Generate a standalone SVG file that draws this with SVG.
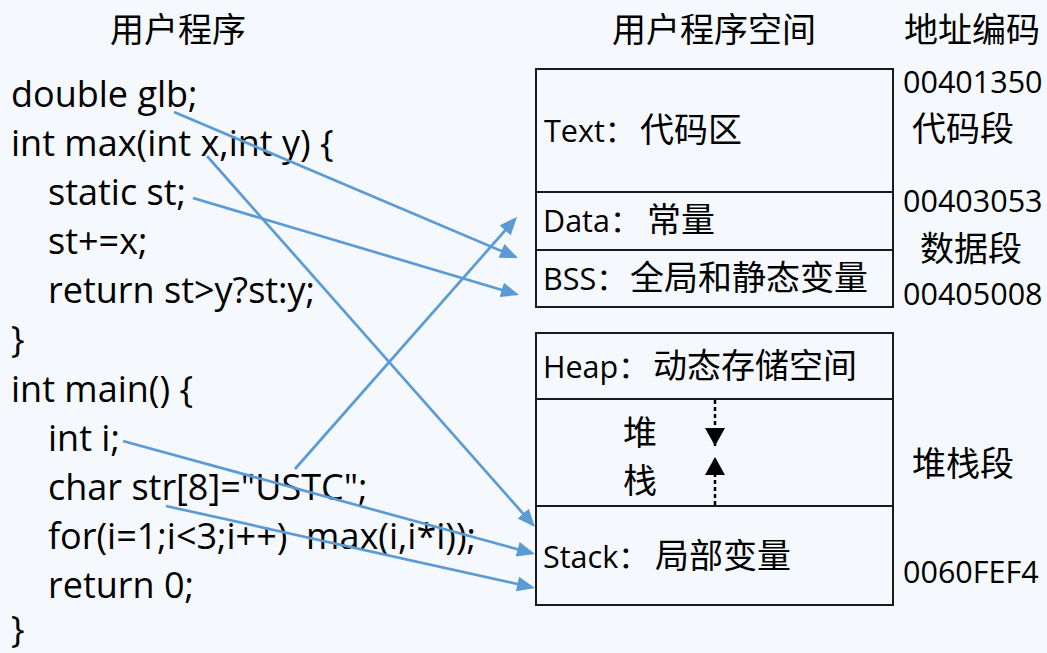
<svg xmlns="http://www.w3.org/2000/svg" width="1047" height="653" viewBox="0 0 1047 653">
<style>
.code{font-family:"Open Sans","Noto Sans",sans-serif;font-size:36px;fill:#000;white-space:pre}
.lbl{font-family:"Open Sans","Noto Sans CJK SC",sans-serif;font-size:30.5px;fill:#000}
.cjk{font-family:"Noto Sans CJK SC",sans-serif;font-size:34px;fill:#000}
.num{font-family:"Open Sans","Noto Sans",sans-serif;font-size:30.5px;fill:#000}
.box{fill:none;stroke:#1a1a1a;stroke-width:2}
.div{stroke:#1a1a1a;stroke-width:2}
.conn{fill:none;stroke:#5b9bd5;stroke-width:2.7}
.dot{fill:none;stroke:#000;stroke-width:2.5;stroke-dasharray:4 3}
</style>
<defs>
<marker id="ab" markerUnits="userSpaceOnUse" viewBox="0 0 18 15" markerWidth="18" markerHeight="15" refX="15" refY="7.5" orient="auto">
<path d="M0,0 L18,7.5 L0,15 z" fill="#5b9bd5"/>
</marker>
<marker id="ak" markerUnits="userSpaceOnUse" viewBox="0 0 18 20" markerWidth="18" markerHeight="20" refX="18" refY="10" orient="auto">
<path d="M0,0 L18,10 L0,20 z" fill="#000"/>
</marker>
</defs>
<rect x="0" y="0" width="1047" height="653" fill="#f5f9fd"/>

<g id="titles">
<text class="cjk" x="110" y="42">用户程序</text>
<text class="cjk" x="612" y="42">用户程序空间</text>
<text class="cjk" x="904" y="42">地址编码</text>
</g>

<g id="code">
<g id="line-glb"><text class="code" x="11" y="107">double glb;</text></g>
<g id="line-max"><text class="code" x="11" y="156">int max(int x,int y) {</text></g>
<g id="line-static"><text class="code" x="48" y="205">static st;</text></g>
<g id="line-add"><text class="code" x="48" y="254">st+=x;</text></g>
<g id="line-ret"><text class="code" x="48" y="303">return st&gt;y?st:y;</text></g>
<g id="line-close1"><text class="code" x="11" y="352">}</text></g>
<g id="line-main"><text class="code" x="11" y="402">int main() {</text></g>
<g id="line-inti"><text class="code" x="48" y="451">int i;</text></g>
<g id="line-str"><text class="code" x="48" y="500">char str[8]="USTC";</text></g>
<g id="line-for"><text class="code" x="48" y="549" xml:space="preserve">for(i=1;i&lt;3;i++)  max(i,i*i));</text></g>
<g id="line-ret0"><text class="code" x="48" y="598">return 0;</text></g>
<g id="line-close2"><text class="code" x="11" y="642">}</text></g>
</g>

<g id="seg-static">
<rect class="box" x="536" y="69" width="357" height="238"/>
<line class="div" x1="536" y1="192" x2="893" y2="192"/>
<line class="div" x1="536" y1="250" x2="893" y2="250"/>
</g>
<g id="text-seg"><text class="lbl" x="544" y="142">Text：<tspan class="cjk" x="640">代码区</tspan></text></g>
<g id="data-seg"><text class="lbl" x="543" y="232">Data：<tspan class="cjk" x="647">常量</tspan></text></g>
<g id="bss-seg"><text class="lbl" x="543" y="290">BSS：<tspan class="cjk" x="630">全局和静态变量</tspan></text></g>

<g id="seg-dyn">
<rect class="box" x="536" y="333" width="357" height="272"/>
<line class="div" x1="536" y1="399" x2="893" y2="399"/>
<line class="div" x1="536" y1="506" x2="893" y2="506"/>
</g>
<g id="heap-seg"><text class="lbl" x="543" y="378">Heap：<tspan class="cjk" x="653">动态存储空间</tspan></text></g>
<g id="gap-seg">
<text class="cjk" x="623" y="445">堆</text>
<text class="cjk" x="623" y="493">栈</text>
<line class="dot" x1="715" y1="400" x2="715" y2="446" marker-end="url(#ak)"/>
<line class="dot" x1="715" y1="505" x2="715" y2="457" marker-end="url(#ak)"/>
</g>
<g id="stack-seg"><text class="lbl" x="543" y="568">Stack：<tspan class="cjk" x="655">局部变量</tspan></text></g>

<g id="addresses">
<text class="num" x="903" y="93">00401350</text>
<text class="cjk" x="912" y="141">代码段</text>
<text class="num" x="903" y="212">00403053</text>
<text class="cjk" x="920" y="261">数据段</text>
<text class="num" x="903" y="305">00405008</text>
<text class="cjk" x="912" y="476">堆栈段</text>
<text class="num" x="903" y="583">0060FEF4</text>
</g>

<g id="connectors">
<line class="conn" x1="174" y1="112" x2="515.2" y2="256.8" marker-end="url(#ab)"/>
<line class="conn" x1="193" y1="198" x2="516.1" y2="294.1" marker-end="url(#ab)"/>
<line class="conn" x1="295" y1="469" x2="515" y2="219.2" marker-end="url(#ab)"/>
<line class="conn" x1="207" y1="156" x2="533" y2="524.8" marker-end="url(#ab)"/>
<line class="conn" x1="123" y1="441" x2="532.1" y2="553.2" marker-end="url(#ab)"/>
<line class="conn" x1="166" y1="506" x2="532.1" y2="587.3" marker-end="url(#ab)"/>
</g>
</svg>
